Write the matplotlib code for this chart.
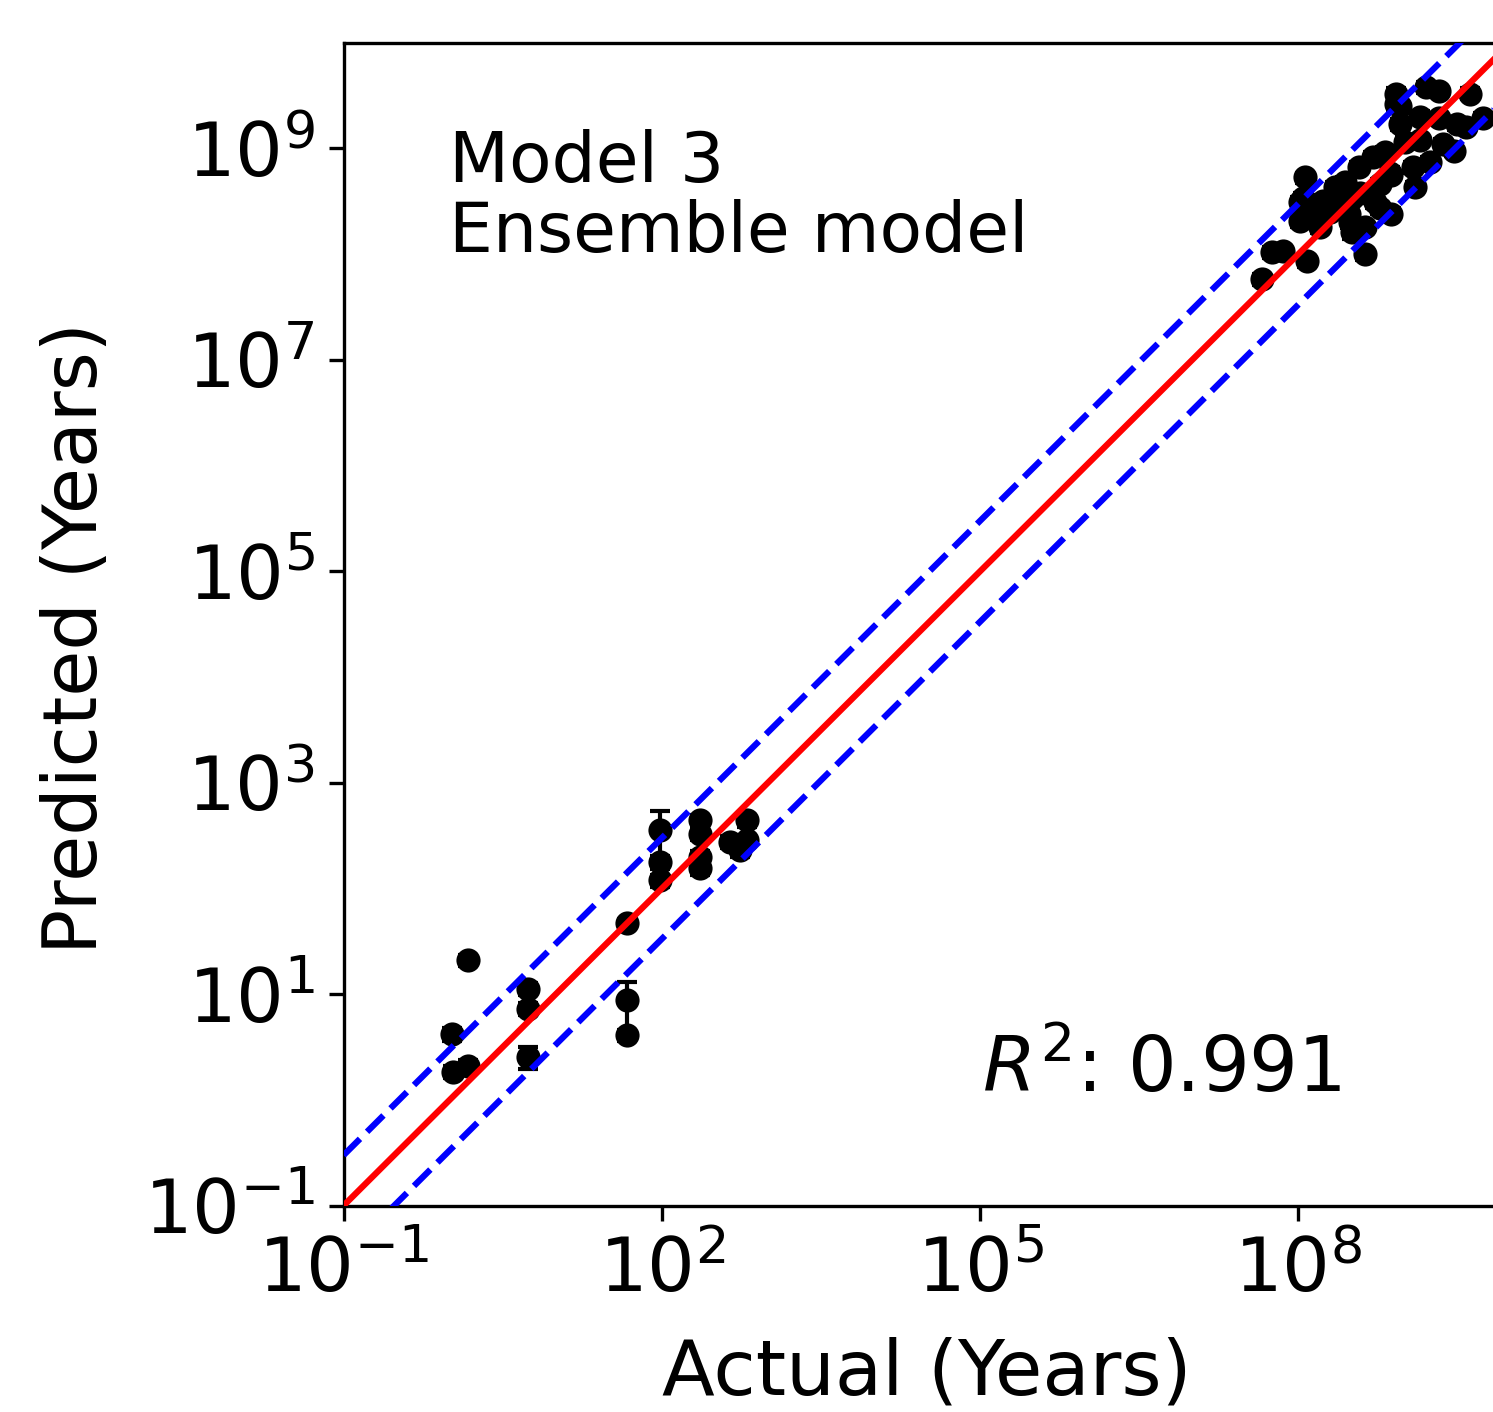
import numpy as np
import matplotlib
matplotlib.use("Agg")
import matplotlib.pyplot as plt

# ---- data ----
x_actual = [1.05, 1.07, 1.5, 1.5, 5.5, 5.5, 5.5, 47, 47, 47,
            96, 96, 96, 230, 230, 230, 230, 440, 630, 630, 540,
            4.5e7, 5.6e7, 7.2e7, 1.2e8, 1.03e8, 1.11e8, 1.15e8, 1.7e8, 2.2e8,
            3.2e8, 4.2e8, 3.7e8, 3.2e8, 5.1e8, 5.9e8, 7.4e8, 8.4e8, 9.1e8,
            8.4e8, 1.4e9, 1.2e9, 1.6e9, 2.1e9, 3.1e9, 2.3e9, 2.9e9, 3.8e9,
            4.1e9, 5.5e9, 2.1e9, 1.5e8, 2.45e8, 3.0e8, 7.4e8, 5.9e8,
            1.98e8, 2.74e8, 3.8e8, 5.3e8, 7.3e8, 1.0e9, 6.5e8, 3.05e8,
            1.25e9, 1.73e9, 4.2e8, 1.6e8, 1.03e8, 9.1e8, 1.4e9]
y_pred = [4.2, 1.85, 21, 2.1, 11.3, 7.3, 2.55, 47, 8.8, 4.1,
          355, 178, 119, 440, 330, 199, 155, 275, 440, 285, 230,
          5.8e7, 1.04e8, 1.07e8, 8.6e7, 2.07e8, 3.4e8, 5.3e8, 3.2e8, 4.3e8,
          1.6e8, 1.0e8, 6.6e8, 3.4e8, 8.2e8, 4.6e8, 2.4e8, 3.3e9, 1.7e9,
          2.6e9, 1.2e9, 6.6e8, 3.8e9, 3.5e9, 1.7e9, 1.1e9, 9.5e8, 1.6e9,
          3.3e9, 1.95e9, 1.95e9, 2.4e8, 2.75e8, 2.4e8, 5.6e8, 2.7e8,
          2.48e8, 4.77e8, 3.8e8, 3.1e8, 5.9e8, 1.14e9, 9.2e8, 2.0e8,
          4.3e8, 7.4e8, 1.8e8, 1.8e8, 3.1e8, 2.5e9, 2.0e9]
y_err = [0.6, 0.25, 2.5, 0.3, 1.5, 1.0, 0.6, 4.0, 4.3, 0.5,
         180, 25, 15, 50, 40, 25, 20, 35, 55, 35, 30,
         7e6, 1.2e7, 1.2e7, 1.0e7, 2.5e7, 4e7, 6e7, 4e7, 5e7,
         2e7, 1.2e7, 8e7, 4e7, 1e8, 5.5e7, 3e7, 4e8, 2e8,
         3e8, 1.5e8, 8e7, 4.5e8, 4e8, 2e8, 1.3e8, 1.1e8, 2e8,
         4e8, 2.3e8, 2.3e8, 3e7, 3.3e7, 3e7, 7e7, 3.3e7,
         3e7, 5.5e7, 4.5e7, 3.5e7, 7e7, 1.3e8, 1.1e8, 2.4e7,
         5e7, 9e7, 2.2e7, 2.2e7, 3.6e7, 3e8, 2.4e8]

xticks = [1e-1, 1e2, 1e5, 1e8]
yticks = [1e-1, 1e1, 1e3, 1e5, 1e7, 1e9]
lims = [1e-1, 1e10]
band = 3.0
r2_text = r"$R^2$: 0.991"
model_text = "Model 3\nEnsemble model"

W, H, DPI = 1493, 1412, 300
fig = plt.figure(figsize=(W / DPI, H / DPI), dpi=DPI)
ax = fig.add_axes([343.6 / W, (H - 1205.6) / H, 1167.0 / W, 1163.0 / H])

ax.errorbar(x_actual, y_pred, yerr=y_err, fmt='o', color='black',
            ms=4.8, capsize=2.5, elinewidth=1.0, capthick=1.0, zorder=2)

line = np.array(lims)
ax.plot(line, line, color='red', lw=1.5, zorder=3)
ax.plot(line, line * band, color='blue', ls='--', lw=1.5, zorder=3)
ax.plot(line, line / band, color='blue', ls='--', lw=1.5, zorder=3)

ax.set_xscale('log')
ax.set_yscale('log')
ax.set_xlim(lims)
ax.set_ylim(lims)
ax.set_xticks(xticks)
ax.set_yticks(yticks)
ax.minorticks_off()
ax.tick_params(labelsize=18)

ax.set_xlabel("Actual (Years)", fontsize=18.5, labelpad=7)
ax.set_ylabel("Predicted (Years)", fontsize=18, labelpad=7.5, y=0.488)

ax.text(0.0905, 0.926, model_text, transform=ax.transAxes, fontsize=16.7,
        va='top', ha='left', linespacing=1.055)
ax.text(0.547, 0.098, r2_text, transform=ax.transAxes, fontsize=18.4,
        va='baseline', ha='left')

fig.savefig("out.png", dpi=DPI)
